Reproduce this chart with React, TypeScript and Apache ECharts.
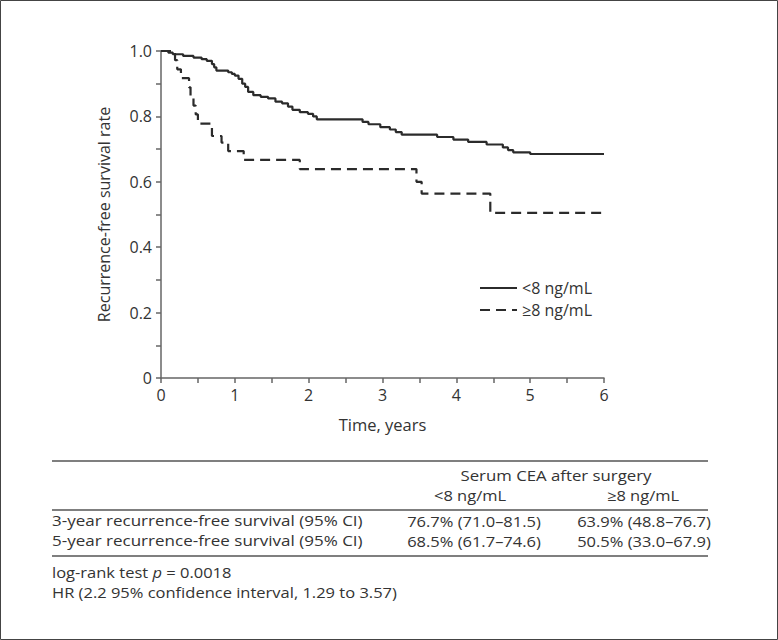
import React, { useEffect, useRef } from "react";
import * as echarts from "echarts";

const FONT = '"Open Sans", "Noto Sans", sans-serif';
const INK = "#333";

// Kaplan–Meier step data, serum CEA < 8 ng/mL
const lowTimes = [0, 0.1, 0.16, 0.3, 0.44, 0.55, 0.62, 0.69, 0.72, 0.75, 0.91, 0.96, 1.0, 1.05, 1.1, 1.14, 1.18, 1.25, 1.35, 1.45, 1.55, 1.64, 1.72, 1.78, 1.88, 1.99, 2.06, 2.11, 2.73, 2.81, 2.97, 3.1, 3.18, 3.26, 3.74, 3.96, 4.16, 4.41, 4.63, 4.7, 4.77, 5.0, 6.0];
const lowSurv = [1.0, 0.995, 0.99, 0.985, 0.98, 0.975, 0.97, 0.96, 0.95, 0.94, 0.935, 0.93, 0.925, 0.915, 0.9, 0.89, 0.875, 0.865, 0.86, 0.855, 0.845, 0.84, 0.83, 0.82, 0.813, 0.808, 0.8, 0.791, 0.783, 0.776, 0.767, 0.76, 0.752, 0.744, 0.737, 0.729, 0.722, 0.714, 0.705, 0.697, 0.69, 0.685, 0.685];

// Kaplan–Meier step data, serum CEA >= 8 ng/mL
const highTimes = [0, 0.19, 0.22, 0.27, 0.38, 0.4, 0.44, 0.47, 0.5, 0.69, 0.82, 0.91, 1.12, 1.88, 3.46, 3.53, 4.46, 6.0];
const highSurv = [1.0, 0.972, 0.944, 0.917, 0.889, 0.861, 0.833, 0.806, 0.778, 0.74, 0.72, 0.694, 0.667, 0.639, 0.6, 0.564, 0.505, 0.505];

const seriesNames = ["<8 ng/mL", "≥8 ng/mL"];

// Table under the chart
const tableTitle = "Serum CEA after surgery";
const tableColumns = ["<8 ng/mL", "≥8 ng/mL"];
const rowLabels = [
  "3-year recurrence-free survival (95% CI)",
  "5-year recurrence-free survival (95% CI)",
];
const rowLow = ["76.7% (71.0–81.5)", "68.5% (61.7–74.6)"];
const rowHigh = ["63.9% (48.8–76.7)", "50.5% (33.0–67.9)"];
const footLines = ["log-rank test {i|p} = 0.0018", "HR (2.2 95% confidence interval, 1.29 to 3.57)"];

function pairs(t: number[], s: number[]) {
  return t.map((v, i) => [v, s[i]]);
}

export default function App() {
  const ref = useRef<HTMLDivElement>(null);
  useEffect(() => {
    if (!ref.current) return;
    const chart = echarts.init(ref.current, null, { renderer: "svg" });
    const FS = 14.4;
    const txt = (text: string, x: number, y: number, align: string, sx: number, extra: any = {}) => ({
      type: "text",
      x,
      y,
      scaleX: sx,
      style: {
        text,
        fill: INK,
        fontSize: FS,
        fontFamily: FONT,
        align,
        verticalAlign: "middle",
        ...extra,
      },
    });
    const hline = (y: number) => ({
      type: "line",
      shape: { x1: 52, y1: y, x2: 708, y2: y },
      style: { stroke: "#555", lineWidth: 1.3 },
    });
    const sLabel = 17 / FS;
    const sVal = 16.5 / FS;
    const graphics: any[] = [
      {
        type: "rect",
        shape: { x: 0.5, y: 0.5, width: 777, height: 639 },
        style: { fill: "none", stroke: "#444", lineWidth: 1 },
      },
      hline(461),
      hline(510),
      hline(556),
      txt(tableTitle, 556, 475, "center", 16.8 / FS),
      txt(tableColumns[0], 470, 495, "center", sVal),
      txt(tableColumns[1], 643, 495, "center", sVal),
      txt(rowLabels[0], 52, 521, "left", sLabel),
      txt(rowLabels[1], 52, 541, "left", sLabel),
      txt(rowLow[0], 474, 521, "center", sVal),
      txt(rowLow[1], 474, 541, "center", sVal),
      txt(rowHigh[0], 644, 521, "center", sVal),
      txt(rowHigh[1], 644, 541, "center", sVal),
      txt(footLines[0], 52, 572, "left", sVal, {
        rich: { i: { fontStyle: "italic", fontSize: FS, fontFamily: FONT, fill: INK } },
      }),
      txt(footLines[1], 52, 592, "left", sVal),
    ];
    chart.setOption({
      animation: false,
      textStyle: { fontFamily: FONT, color: INK },
      grid: { left: 161, right: 174, top: 51, bottom: 262, containLabel: false },
      legend: {
        orient: "vertical",
        left: 479,
        top: 279,
        padding: 0,
        itemWidth: 37,
        itemHeight: 14,
        itemGap: 4,
        data: seriesNames,
        itemStyle: { opacity: 0 },
        textStyle: { fontSize: 16, color: INK, fontFamily: FONT, lineHeight: 18 },
      },
      xAxis: {
        type: "value",
        min: 0,
        max: 6,
        interval: 1,
        name: "Time, years",
        nameLocation: "middle",
        nameGap: 38,
        nameTextStyle: { fontSize: 16.5, color: INK, fontFamily: FONT },
        axisLine: { show: true, lineStyle: { color: "#666", width: 1.5 } },
        axisTick: { show: true, length: 5, lineStyle: { color: "#666", width: 1.5 } },
        minorTick: { show: true, splitNumber: 2, length: 5, lineStyle: { color: "#666", width: 1.5 } },
        axisLabel: { fontSize: 16, color: INK, margin: 9, fontFamily: FONT },
        splitLine: { show: false },
      },
      yAxis: {
        type: "value",
        min: 0,
        max: 1,
        interval: 0.2,
        name: "Recurrence-free survival rate",
        nameLocation: "middle",
        nameGap: 49,
        nameTextStyle: { fontSize: 16, color: INK, fontFamily: FONT },
        axisLine: { show: true, lineStyle: { color: "#666", width: 1.5 } },
        axisTick: { show: true, length: 5, lineStyle: { color: "#666", width: 1.5 } },
        minorTick: { show: true, splitNumber: 2, length: 5, lineStyle: { color: "#666", width: 1.5 } },
        axisLabel: {
          fontSize: 16,
          color: INK,
          margin: 9,
          fontFamily: FONT,
          formatter: (v: number) => (v === 0 ? "0" : v.toFixed(1)),
        },
        splitLine: { show: false },
      },
      series: [
        {
          name: seriesNames[0],
          type: "line",
          step: "end",
          symbol: "none",
          data: pairs(lowTimes, lowSurv),
          lineStyle: { color: "#2b2b2b", width: 2.2, type: "solid" },
          itemStyle: { color: "#2b2b2b" },
        },
        {
          name: seriesNames[1],
          type: "line",
          step: "end",
          symbol: "none",
          data: pairs(highTimes, highSurv),
          lineStyle: { color: "#2b2b2b", width: 2.2, type: [10, 6] },
          itemStyle: { color: "#2b2b2b" },
        },
      ],
      graphic: graphics,
    });
    return () => chart.dispose();
  }, []);
  return (
    <div
      ref={ref}
      style={{ position: "absolute", left: 0, top: 0, width: 778, height: 640, background: "#fff" }}
    />
  );
}
